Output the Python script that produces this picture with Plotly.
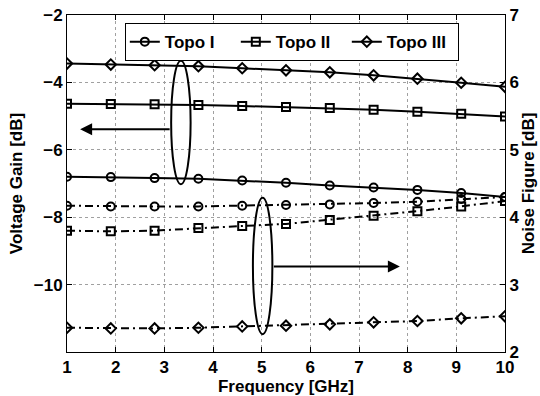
import plotly.graph_objects as go

freq = [1, 1.9, 2.8, 3.7, 4.6, 5.5, 6.4, 7.3, 8.2, 9.1, 10]

gain_topo1 = [-6.80, -6.81, -6.84, -6.86, -6.91, -6.98, -7.06, -7.12, -7.19, -7.28, -7.40]
gain_topo2 = [-4.63, -4.64, -4.65, -4.67, -4.70, -4.73, -4.76, -4.81, -4.87, -4.93, -5.01]
gain_topo3 = [-3.44, -3.47, -3.49, -3.52, -3.58, -3.64, -3.70, -3.79, -3.89, -4.01, -4.13]

nf_topo1 = [4.17, 4.16, 4.16, 4.16, 4.17, 4.18, 4.19, 4.21, 4.23, 4.27, 4.30]
nf_topo2 = [3.80, 3.79, 3.80, 3.84, 3.87, 3.90, 3.96, 4.02, 4.09, 4.16, 4.24]
nf_topo3 = [2.36, 2.35, 2.35, 2.36, 2.38, 2.39, 2.41, 2.44, 2.46, 2.50, 2.53]

names = ["Topo I", "Topo II", "Topo III"]
symbols = ["circle-open", "square-open", "diamond-open"]

x_ticks = [1, 2, 3, 4, 5, 6, 7, 8, 9, 10]
y_ticks = [-10, -8, -6, -4, -2]
y2_ticks = [2, 3, 4, 5, 6, 7]

FONT = "Liberation Sans, Arial, sans-serif"
TICKFONT = dict(family=FONT, size=17, color="black", weight="bold")
TITLEFONT = dict(family=FONT, size=17, color="black", weight="bold")

fig = go.Figure()

gains = [gain_topo1, gain_topo2, gain_topo3]
nfs = [nf_topo1, nf_topo2, nf_topo3]

for name, sym, g in zip(names, symbols, gains):
    fig.add_trace(go.Scatter(
        x=freq, y=g, name=name, mode="lines+markers",
        line=dict(color="black", width=2),
        marker=dict(symbol=sym, size=8, color="black", line=dict(width=2, color="black")),
        yaxis="y", legendgroup=name,
    ))

for name, sym, n in zip(names, symbols, nfs):
    fig.add_trace(go.Scatter(
        x=freq, y=n, name=name, mode="lines+markers",
        line=dict(color="black", width=2, dash="8px,4px,2px,4px"),
        marker=dict(symbol=sym, size=8, color="black", line=dict(width=2, color="black")),
        yaxis="y2", showlegend=False, legendgroup=name,
    ))

# ellipses
fig.add_shape(type="circle", xref="x", yref="y", x0=3.14, x1=3.54, y0=-7.02, y1=-3.36,
              line=dict(color="black", width=2))
fig.add_shape(type="circle", xref="x", yref="y", x0=4.82, x1=5.22, y0=-11.47, y1=-7.42,
              line=dict(color="black", width=2))

# arrows
fig.add_annotation(x=1.27, y=-5.39, ax=3.14, ay=-5.39, xref="x", yref="y", axref="x", ayref="y",
                   text="", showarrow=True, arrowhead=2, arrowsize=1.2, arrowwidth=2, arrowcolor="black")
fig.add_annotation(x=7.84, y=-9.46, ax=5.22, ay=-9.46, xref="x", yref="y", axref="x", ayref="y",
                   text="", showarrow=True, arrowhead=2, arrowsize=1.2, arrowwidth=2, arrowcolor="black")

axis_common = dict(
    showline=True, linecolor="black", linewidth=1,
    ticks="inside", ticklen=5, tickcolor="black", tickwidth=1,
    tickfont=TICKFONT, zeroline=False, automargin=False,
)

fig.update_layout(
    width=540, height=396,
    margin=dict(l=67, r=35, t=15, b=44),
    paper_bgcolor="white", plot_bgcolor="white",
    font=dict(family=FONT, size=17, color="black", weight="bold"),
    xaxis=dict(
        range=[1, 10], tickvals=x_ticks, mirror="ticks",
        showgrid=True, gridcolor="#a0a0a0", griddash="dot", gridwidth=1,
        title=dict(text="Frequency [GHz]", standoff=0, font=TITLEFONT),
        **axis_common,
    ),
    yaxis=dict(
        range=[-12, -2], tickvals=y_ticks,
        showgrid=True, gridcolor="#a0a0a0", griddash="dot", gridwidth=1,
        title=dict(text="Voltage Gain [dB]", standoff=6, font=TITLEFONT),
        **axis_common,
    ),
    yaxis2=dict(
        range=[2, 7], tickvals=y2_ticks, overlaying="y", side="right",
        showgrid=False,
        title=dict(text="Noise Figure [dB]", standoff=0, font=TITLEFONT),
        **axis_common,
    ),
    legend=dict(
        orientation="h", x=0.132, y=0.976, xanchor="left", yanchor="top",
        bordercolor="black", borderwidth=1, bgcolor="white",
        font=dict(family=FONT, size=17, color="black", weight="bold"),
        itemwidth=30, tracegroupgap=0, entrywidth=66,
    ),
    showlegend=True,
)

fig.write_html("out.html", config={"displayModeBar": False},
               post_script="document.body.style.margin='0px';document.body.style.overflow='hidden';")
